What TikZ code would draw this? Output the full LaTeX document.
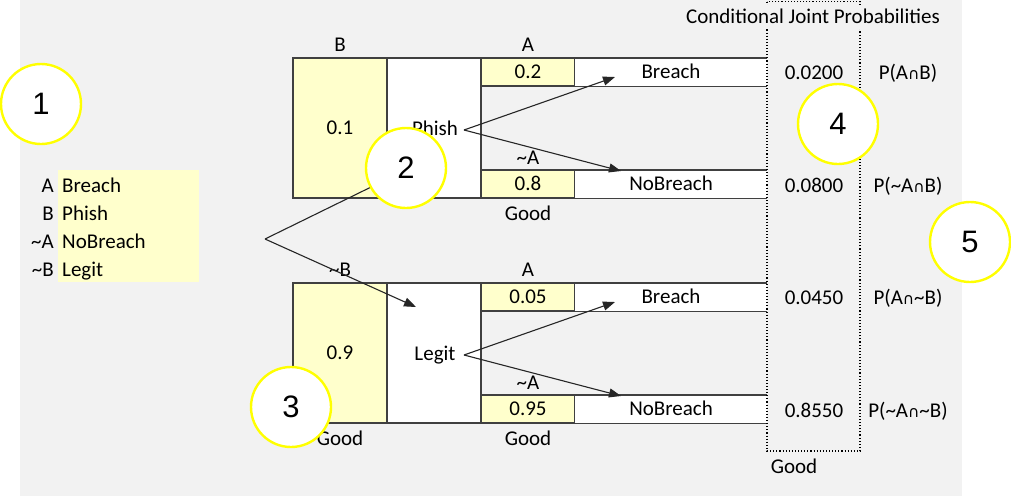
\documentclass[tikz,border=0pt]{standalone}
\usepackage{fontspec}
\setmainfont{Carlito}
\newfontfamily\symfont{DejaVu Sans}
\newfontfamily\numfont{Liberation Sans}
\usetikzlibrary{arrows.meta,positioning}

\definecolor{sheetgray}{HTML}{F2F2F2}
\definecolor{cellyellow}{HTML}{FFFFCC}
\definecolor{calloutyellow}{HTML}{FFFF00}
\definecolor{edgegray}{HTML}{404040}

\newcommand{\nt}{\textasciitilde}
\newcommand{\cp}{{\symfont\fontsize{15.5}{15.5}\selectfont ∩}}

\tikzset{
  txt/.style={inner sep=0pt, text height=13.5pt, text depth=0pt},
  cell/.style={txt, draw=edgegray, line width=1.4pt, minimum width=94pt},
  outcome/.style={txt, fill=white, minimum width=192pt, minimum height=28pt},
  link/.style={draw=black!85, line width=1.1pt},
  branch/.style={link, -{Triangle[length=12pt,width=9pt]}},
  callout/.style={circle, draw=calloutyellow, line width=2.4pt, fill=white,
    minimum size=80pt, inner sep=0pt, font=\numfont\fontsize{31}{31}\selectfont},
}

\begin{document}
\begin{tikzpicture}[x=1pt,y=-1pt,font=\fontsize{21}{25}\selectfont]
\useasboundingbox (0,0) rectangle (1011,496);
\fill[sheetgray] (20,0) rectangle (962,496);

% legend
\fill[cellyellow] (58,170) rectangle (199,282);
\foreach \y/\k/\v [count=\i] in {186/A/Breach,214/B/Phish,242/\nt A/NoBreach,270/\nt B/Legit} {
  \node[txt,anchor=east] (key\i) at (54,\y) {\k};
  \node[txt,anchor=west] (word\i) at (62,\y) {\v};
}

% the two blocks
\foreach \b/\top/\pb/\nm/\pa/\pn/\bl in {1/58/0.1/Phish/0.2/0.8/B,2/283/0.9/Legit/0.05/0.95/\nt B} {
  \node[cell,fill=cellyellow,minimum height=140pt] (pB\b) at (340,\top+70) {\pb};
  \node[cell,fill=white,minimum height=140pt] (nB\b) at (434,\top+70) {};
  \node[txt] (nm\b) at (435,\top+71) {\nm};
  \node[cell,fill=cellyellow,minimum height=28pt] (pA\b) at (528,\top+14) {\pa};
  \node[cell,fill=cellyellow,minimum height=28pt] (pN\b) at (528,\top+126) {\pn};
  \node[outcome] (oA\b) at (671,\top+14) {Breach};
  \node[outcome] (oN\b) at (671,\top+126) {NoBreach};
  \draw[edgegray,line width=1.4pt] (oA\b.north west) -- (oA\b.north east) (oA\b.south west) -- (oA\b.south east)
    (oN\b.north west) -- (oN\b.north east) (oN\b.south west) -- (oN\b.south east);
  \node[txt] (lB\b) at (340,\top-13) {\bl};
  \node[txt] (lA\b) at (528,\top-13) {A};
  \node[txt] (lN\b) at (528,\top+100) {\nt A};
  \node[txt] (gA\b) at (528,\top+156) {Good};
  \coordinate (fork\b) at (464,\top+72);
  \coordinate (tipA\b) at (615,\top+19);
  \coordinate (tipN\b) at (621,\top+113);
  \draw[branch] (fork\b) -- (tipA\b);
  \draw[branch] (fork\b) -- (tipN\b);
}
\node[txt] (gB2) at (340,439) {Good};

% root fork
\coordinate (root) at (265,239);
\coordinate (tipB) at (414,166);
\coordinate (tipL) at (416,307);
\draw[branch] (root) -- (tipB);
\draw[branch] (root) -- (tipL);

% joint probabilities column
\draw[dotted,line width=1.1pt] (767,1.5) rectangle (860,451);
\node[txt,fill=sheetgray,inner xsep=4pt,inner ysep=5pt] (title) at (813,17) {Conditional Joint Probabilities};
\foreach \y/\v/\p [count=\i] in {73/0.0200/P(A\cp B),186/0.0800/P(\nt A\cp B),298/0.0450/P(A\cp\nt B),411/0.8550/P(\nt A\cp\nt B)} {
  \node[txt] (jv\i) at (814,\y) {\v};
  \node[txt] (jp\i) at (908,\y) {\p};
}
\node[txt] (gJ) at (794,467) {Good};

% callouts
\node[callout] (c1) at (41,104) {1};
\node[callout] (c2) at (406,168) {2};
\node[callout] (c3) at (291,407) {3};
\node[callout] (c4) at (838,124) {4};
\node[callout] (c5) at (970,242) {5};
\end{tikzpicture}
\end{document}
